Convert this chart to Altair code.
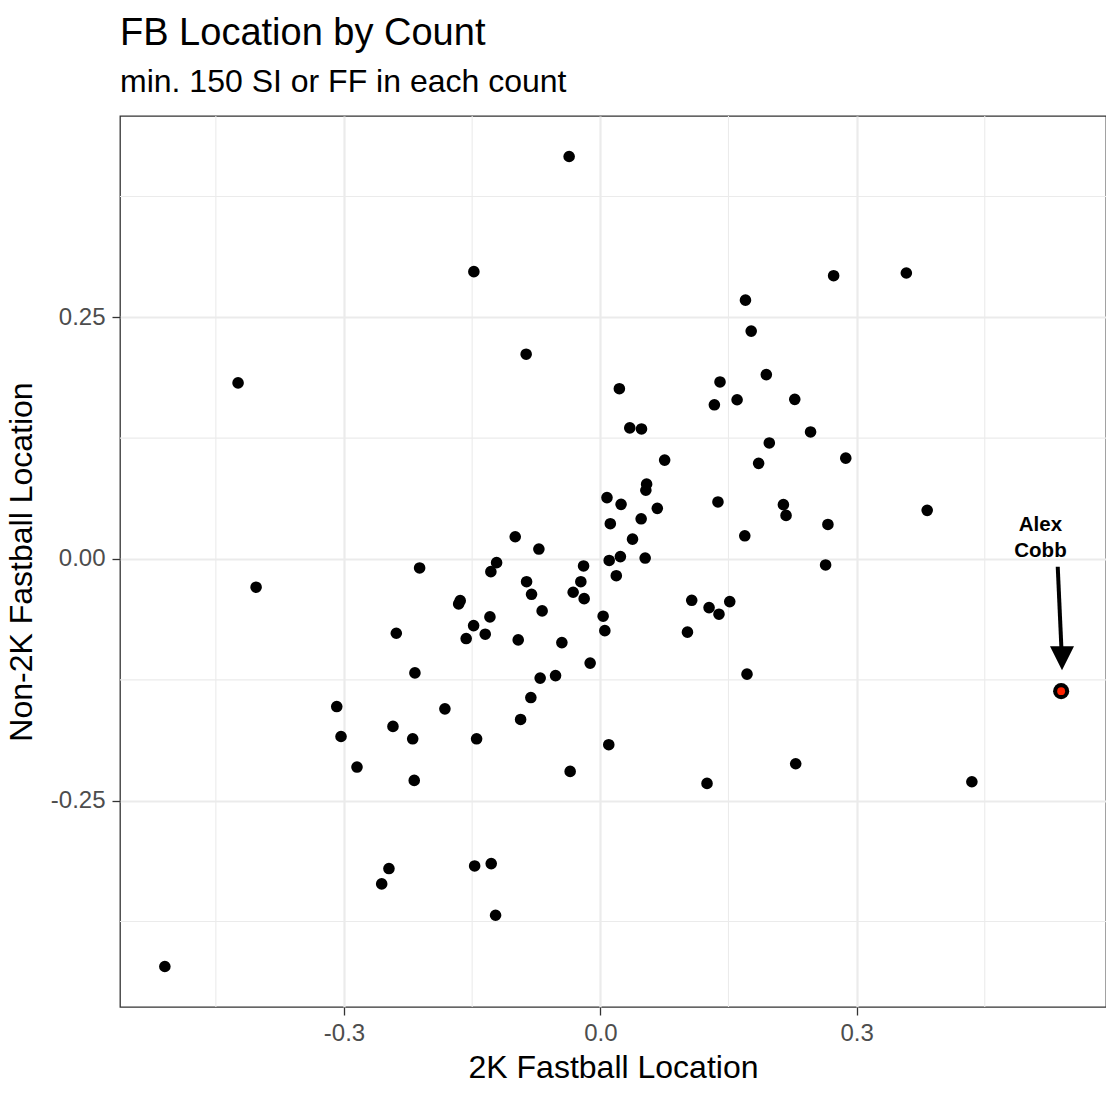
import altair as alt
import pandas as pd

# ---- data (2K location vs non-2K location) ----
x_2k = [
    -0.0365, -0.1480, 0.2731, 0.3582, 0.1699, 0.1766, -0.0868, -0.4240, 0.0223, 0.1943,
    0.1401, 0.1335, 0.1601, 0.2276, 0.0345, 0.0482, 0.2461, 0.1978, 0.0753, 0.2873,
    0.1853, 0.0542, 0.0533, 0.1377, 0.0078, 0.2143, 0.0243, 0.0667, 0.3826, 0.2174,
    0.0478, 0.0117, 0.2664, 0.0377, 0.1691, -0.0996, -0.0719, 0.0235, 0.0104, 0.0525,
    0.2637, -0.1214, -0.2115, -0.0196, -0.1281, 0.0187, -0.4029, -0.0228, -0.0863, -0.0318,
    -0.0189, -0.0805, -0.1640, -0.1658, -0.1483, -0.1292, -0.0681, 0.0033, 0.1070, 0.1515,
    0.1273, 0.1389, -0.1570, -0.1347, -0.2388, 0.0053, -0.0961, 0.1020, -0.0450, -0.0119,
    -0.2170, 0.1717, -0.0704, -0.0524, -0.0813, -0.1819, -0.3085, -0.2427, -0.0933, -0.3035,
    -0.2196, -0.1448, 0.0099, -0.2848, -0.0353, 0.2287, -0.2178, 0.1249, 0.4349, -0.1471,
    -0.1277, -0.2474, -0.2559, -0.1226, -0.5097,
]
y_non2k = [
    0.4163, 0.2972, 0.2930, 0.2958, 0.2677, 0.2357, 0.2118, 0.1821, 0.1761, 0.1907,
    0.1831, 0.1595, 0.1647, 0.1651, 0.1356, 0.1345, 0.1314, 0.1200, 0.1023, 0.1043,
    0.0989, 0.0774, 0.0711, 0.0590, 0.0635, 0.0562, 0.0565, 0.0524, 0.0503, 0.0451,
    0.0416, 0.0365, 0.0357, 0.0205, 0.0240, 0.0230, 0.0103, 0.0025, -0.0015, 0.0010,
    -0.0062, -0.0038, -0.0093, -0.0072, -0.0131, -0.0173, -0.0292, -0.0235, -0.0235, -0.0344,
    -0.0410, -0.0365, -0.0431, -0.0465, -0.0689, -0.0599, -0.0537, -0.0592, -0.0427, -0.0441,
    -0.0503, -0.0571, -0.0823, -0.0778, -0.0768, -0.0741, -0.0837, -0.0757, -0.0865, -0.1077,
    -0.1178, -0.1191, -0.1232, -0.1206, -0.1433, -0.1550, -0.1526, -0.1732, -0.1660, -0.1836,
    -0.1860, -0.1860, -0.1921, -0.2152, -0.2197, -0.2118, -0.2290, -0.2321, -0.2304, -0.3175,
    -0.3151, -0.3202, -0.3361, -0.3685, -0.4215,
]

# highlighted pitcher
hl_name = ["Alex\nCobb"]
hl_x = [0.5394]
hl_y = [-0.1367]

# annotation (data units)
label_x = [0.5152]
label_y = [0.0289]
arrow_x = [0.5354]
arrow_y = [-0.0080]
arrow_x2 = [0.5398]
arrow_y2 = [-0.0940]
head_x = [0.5404]
head_y = [-0.1026]

# axes
x_ticks = [-0.3, 0.0, 0.3]
y_ticks = [0.25, 0.0, -0.25]
x_minor = [-0.45, -0.15, 0.15, 0.45]
y_minor = [0.375, 0.125, -0.125, -0.375]
x_domain = [-0.5622, 0.5919]
y_domain = [-0.4634, 0.4582]

FONT = "Liberation Sans, Arial, Helvetica, sans-serif"

pts = pd.DataFrame({"x": x_2k, "y": y_non2k})
hl = pd.DataFrame({"x": hl_x, "y": hl_y, "name": hl_name})
lab = pd.DataFrame({"x": label_x, "y": label_y, "name": hl_name})
arr = pd.DataFrame({"x": arrow_x, "y": arrow_y, "x2": arrow_x2, "y2": arrow_y2})
head = pd.DataFrame({"x": head_x, "y": head_y})
xm = pd.DataFrame({"v": x_minor})
ym = pd.DataFrame({"v": y_minor})

xscale = alt.Scale(domain=x_domain, nice=False, zero=False)
yscale = alt.Scale(domain=y_domain, nice=False, zero=False)

x_axis = alt.Axis(
    values=x_ticks,
    labelExpr="replace(format(datum.value, '.1f'), '\u2212', '-')",
    title="2K Fastball Location",
    grid=True, gridColor="#EBEBEB", gridWidth=2.2,
    domain=False, tickColor="#333333", tickSize=8, tickWidth=1.3,
    labelFontSize=24, labelColor="#4D4D4D", labelFont=FONT, labelPadding=6,
    titleFontSize=32, titleFontWeight="normal", titleColor="black", titleFont=FONT,
    titlePadding=7,
)
y_axis = alt.Axis(
    values=y_ticks,
    labelExpr="replace(format(datum.value, '.2f'), '\u2212', '-')",
    title="Non-2K Fastball Location",
    grid=True, gridColor="#EBEBEB", gridWidth=2.2,
    domain=False, tickColor="#333333", tickSize=8, tickWidth=1.3,
    labelFontSize=24, labelColor="#4D4D4D", labelFont=FONT, labelPadding=7,
    titleFontSize=32, titleFontWeight="normal", titleColor="black", titleFont=FONT,
    titlePadding=12,
)

base_pts = alt.Chart(pts).mark_circle(size=135, color="black", opacity=1).encode(
    x=alt.X("x:Q", scale=xscale, axis=x_axis),
    y=alt.Y("y:Q", scale=yscale, axis=y_axis),
)

minor_x = alt.Chart(xm).mark_rule(color="#EBEBEB", strokeWidth=1.1).encode(
    x=alt.X("v:Q", scale=xscale)
)
minor_y = alt.Chart(ym).mark_rule(color="#EBEBEB", strokeWidth=1.1).encode(
    y=alt.Y("v:Q", scale=yscale)
)

hl_outer = alt.Chart(hl).mark_circle(size=260, color="black", opacity=1).encode(
    x=alt.X("x:Q", scale=xscale), y=alt.Y("y:Q", scale=yscale)
)
hl_inner = alt.Chart(hl).mark_circle(size=62, color="#FF2200", opacity=1).encode(
    x=alt.X("x:Q", scale=xscale), y=alt.Y("y:Q", scale=yscale)
)

arrow_shaft = alt.Chart(arr).mark_rule(color="black", strokeWidth=4).encode(
    x=alt.X("x:Q", scale=xscale), y=alt.Y("y:Q", scale=yscale),
    x2="x2:Q", y2="y2:Q",
)
arrow_head = alt.Chart(head).mark_point(
    shape="M-1,-1L1,-1L0,1Z", filled=True, color="black", opacity=1, size=576, strokeWidth=0
).encode(x=alt.X("x:Q", scale=xscale), y=alt.Y("y:Q", scale=yscale))

label = alt.Chart(lab).mark_text(
    font=FONT, fontSize=20.5, fontWeight="bold", color="black",
    align="center", baseline="alphabetic", lineBreak="\n", lineHeight=25.7,
).encode(x=alt.X("x:Q", scale=xscale), y=alt.Y("y:Q", scale=yscale), text="name:N")

chart = alt.layer(
    minor_x, minor_y, base_pts, hl_outer, hl_inner, arrow_shaft, arrow_head, label
).properties(
    width=986,
    height=891,
    title=alt.TitleParams(
        text="FB Location by Count",
        subtitle="min. 150 SI or FF in each count",
        anchor="start", frame="group",
        font=FONT, fontSize=38, fontWeight="normal", color="black",
        subtitleFont=FONT, subtitleFontSize=32, subtitleColor="black",
        subtitlePadding=14, offset=17,
    ),
    autosize=alt.AutoSizeParams(type="none"),
    padding={"left": 112, "top": 108, "right": 0, "bottom": 80},
).configure(
    background="white",
    view=alt.ViewConfig(stroke="#333333", strokeWidth=1.3),
)

chart.save("out.html", embed_options={"renderer": "svg", "actions": False})
